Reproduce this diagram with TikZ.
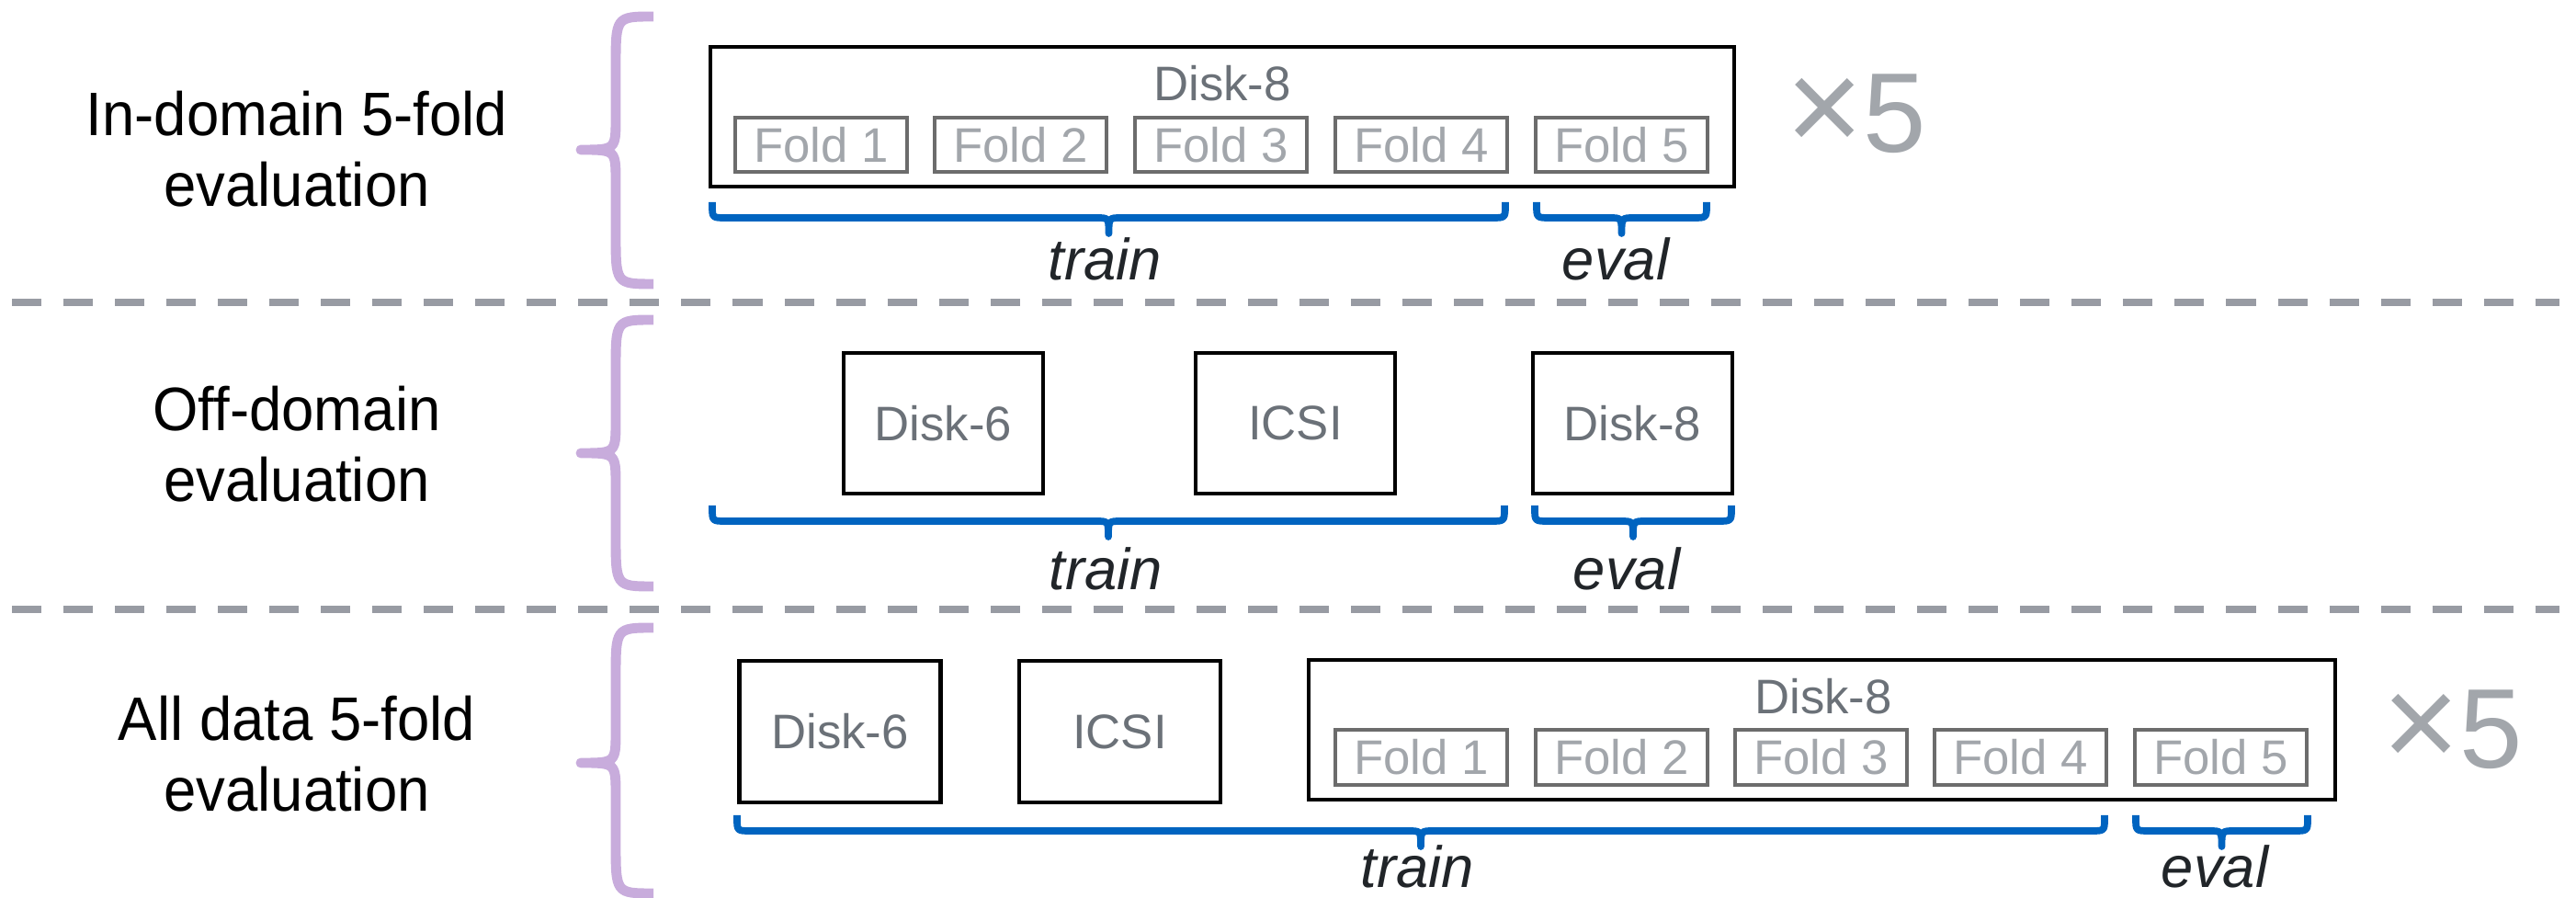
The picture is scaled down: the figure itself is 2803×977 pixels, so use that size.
\documentclass[tikz,border=0pt]{standalone}
\usepackage{fontspec}
\setmainfont{Liberation Sans}
\newfontfamily\lightfont{Liberation Sans}[FakeStretch=0.95]
\definecolor{brpurple}{HTML}{C8ACDC}
\definecolor{brblue}{HTML}{0064C0}
\definecolor{dashgray}{HTML}{989BA3}
\definecolor{foldline}{HTML}{6C6C6C}
\definecolor{foldtext}{HTML}{A2A6AB}
\definecolor{disktext}{HTML}{6B7178}
\definecolor{splittext}{HTML}{212529}
\newcommand{\mybluebrace}[3]{%
  \pgfmathsetmacro\bxm{(#1+#2)/2}%
  \draw[bluebr] ({#1},{#3}) -- ({#1},{#3+3}) .. controls ({#1},{#3+17}) .. ({#1+15},{#3+17})
    -- ({\bxm-14},{#3+17}) .. controls (\bxm,{#3+17}) .. (\bxm,{#3+34})
    .. controls (\bxm,{#3+17}) .. ({\bxm+14},{#3+17})
    -- ({#2-15},{#3+17}) .. controls ({#2},{#3+17}) .. ({#2},{#3+3}) -- ({#2},{#3});}
\newcommand{\mypurplebrace}[3]{%
  \draw[purplebr] (711,{#1}) .. controls (670,{#1}) .. (670,{#1+55})
    -- (670,{#2-35}) .. controls (670,{#2}) .. (632,{#2})
    .. controls (670,{#2}) .. (670,{#2+35})
    -- (670,{#3-55}) .. controls (670,{#3}) .. (711,{#3});}
\begin{document}
\begin{tikzpicture}[x=0.01cm,y=-0.01cm,
  bluebr/.style={draw=brblue,line width=2.2pt,line join=round},
  purplebr/.style={draw=brpurple,line width=3.1pt,line join=round},
  sep/.style={draw=dashgray,line width=2.28pt,dash pattern=on 0.32cm off 0.24cm},
  rowlabel/.style={align=center,inner sep=0,font=\lightfont\fontsize{19}{21.9}\selectfont},
  dbox/.style={draw=black,line width=1.28pt,fill=white,inner sep=0,text=disktext,
    font=\fontsize{15}{18}\selectfont},
  foldbox/.style={draw=foldline,line width=1.14pt,inner sep=0,text=foldtext,
    minimum width=1.87cm,minimum height=0.59cm,font=\fontsize{15}{18}\selectfont},
  splitlabel/.style={anchor=base,inner sep=0,text=splittext,font=\itshape\fontsize{18}{21}\selectfont},
  times/.style={anchor=base west,inner sep=0,text=foldtext},
  disklabel/.style={inner sep=0,text=disktext,font=\fontsize{15}{18}\selectfont}]
\useasboundingbox (0,0) rectangle (2803,977);

% separators
\coordinate (s1a) at (13,329); \coordinate (s1b) at (2785,329);
\coordinate (s2a) at (13,663); \coordinate (s2b) at (2785,663);
\draw[sep] (s1a) -- (s1b);
\draw[sep] (s2a) -- (s2b);

% ---------- row 1 ----------
\node[rowlabel] (lab1) at (323,162) {In-domain 5-fold\\evaluation};
\mypurplebrace{18}{163}{309}
\node[dbox,minimum width=11.13cm,minimum height=1.515cm] (ra) at (1330,127) {};
\node[disklabel] (raname) at (1330,91) {Disk-8};
\node[foldbox] (ra1) at (893.5,157.5) {Fold 1};
\node[foldbox] (ra2) at (1110.5,157.5) {Fold 2};
\node[foldbox] (ra3) at (1328.5,157.5) {Fold 3};
\node[foldbox] (ra4) at (1546.5,157.5) {Fold 4};
\node[foldbox] (ra5) at (1764.5,157.5) {Fold 5};
\node[times] (xa) at (1943,166) {{\fontsize{41}{41}\selectfont ×}{\fontsize{35}{35}\selectfont 5}};
\mybluebrace{775}{1638}{220}
\mybluebrace{1672}{1857}{220}
\node[splitlabel] (tra) at (1202,305) {train};
\node[splitlabel] (eva) at (1758,305) {eval};

% ---------- row 2 ----------
\node[rowlabel] (lab2) at (323,483.5) {Off-domain\\evaluation};
\mypurplebrace{348}{493}{638}
\node[dbox,minimum width=2.165cm,minimum height=1.525cm] (rb1) at (1026.5,460.5) {Disk-6};
\node[dbox,minimum width=2.165cm,minimum height=1.525cm] (rb2) at (1409.5,460.5) {ICSI};
\node[dbox,minimum width=2.165cm,minimum height=1.525cm] (rb3) at (1776.5,460.5) {Disk-8};
\mybluebrace{775}{1637}{550}
\mybluebrace{1670}{1884}{550}
\node[splitlabel] (trb) at (1203,642) {train};
\node[splitlabel] (evb) at (1770,642) {eval};

% ---------- row 3 ----------
\node[rowlabel] (lab3) at (323,820) {All data 5-fold\\evaluation};
\mypurplebrace{683}{830}{972}
\node[dbox,minimum width=2.19cm,minimum height=1.535cm] (rc1) at (914,796) {Disk-6};
\node[dbox,minimum width=2.19cm,minimum height=1.535cm] (rc2) at (1218.5,796) {ICSI};
\node[dbox,minimum width=11.165cm,minimum height=1.515cm] (rc) at (1982.5,794) {};
\node[disklabel] (rcname) at (1984,758) {Disk-8};
\node[foldbox] (rc3) at (1546.5,824) {Fold 1};
\node[foldbox] (rc4) at (1764.5,824) {Fold 2};
\node[foldbox] (rc5) at (1981.5,824) {Fold 3};
\node[foldbox] (rc6) at (2198.5,824) {Fold 4};
\node[foldbox] (rc7) at (2416.5,824) {Fold 5};
\node[times] (xc) at (2592,836) {{\fontsize{41}{41}\selectfont ×}{\fontsize{35}{35}\selectfont 5}};
\mybluebrace{802}{2290}{887}
\mybluebrace{2324}{2511}{887}
\node[splitlabel] (trc) at (1542,966) {train};
\node[splitlabel] (evc) at (2410,966) {eval};
\end{tikzpicture}
\end{document}
